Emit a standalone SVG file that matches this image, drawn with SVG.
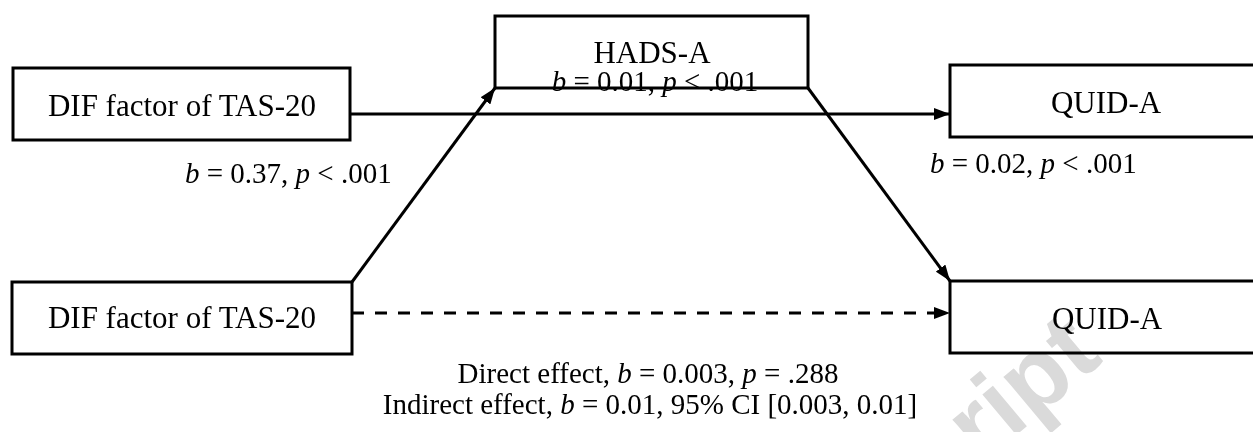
<svg xmlns="http://www.w3.org/2000/svg" width="1253" height="432" viewBox="0 0 1253 432">
<style>
.box{fill:#fff;stroke:#000;stroke-width:3}
.nt{font-family:"Liberation Serif","Times New Roman",serif;font-size:31px;fill:#000;text-anchor:middle}
.lb{font-family:"Liberation Serif","Times New Roman",serif;font-size:29px;fill:#000}
.ln{fill:none;stroke:#000;stroke-width:3}
.wm{font-family:"Liberation Sans",Arial,sans-serif;font-weight:bold;font-size:100px;fill:#dadada;mix-blend-mode:multiply}
</style>
<defs>
<marker id="ah" viewBox="0 0 16 12" refX="16" refY="6" markerWidth="16" markerHeight="12" markerUnits="userSpaceOnUse" orient="auto">
<path d="M0,0 L16,6 L0,12 Z" fill="#000"/>
</marker>
</defs>
<g id="connectors">
<line class="ln" x1="350" y1="114" x2="950" y2="114" marker-end="url(#ah)"/>
<line class="ln" x1="352" y1="282" x2="495" y2="88" marker-end="url(#ah)"/>
<line class="ln" x1="808" y1="88" x2="950" y2="281" marker-end="url(#ah)"/>
<line class="ln" x1="352" y1="313" x2="950" y2="313" stroke-dasharray="12 11" marker-end="url(#ah)"/>
</g>
<g id="node-hads">
<rect class="box" x="495" y="16" width="313" height="72"/>
<text class="nt" x="652" y="63">HADS-A</text>
</g>
<g id="node-dif-top">
<rect class="box" x="13" y="68" width="337" height="72"/>
<text class="nt" x="182" y="116" font-size="32">DIF factor of TAS-20</text>
</g>
<g id="node-quid-top">
<rect class="box" x="950" y="65" width="320" height="72"/>
<text class="nt" x="1106" y="113">QUID-A</text>
</g>
<g id="node-dif-bottom">
<rect class="box" x="12" y="282" width="340" height="72"/>
<text class="nt" x="182" y="328" font-size="32">DIF factor of TAS-20</text>
</g>
<g id="node-quid-bottom">
<rect class="box" x="950" y="281" width="320" height="72"/>
<text class="nt" x="1107" y="329">QUID-A</text>
</g>
<g id="labels">
<text class="lb" x="655" y="91" text-anchor="middle"><tspan font-style="italic">b</tspan> = 0.01, <tspan font-style="italic">p</tspan> &lt; .001</text>
<text class="lb" x="185" y="183"><tspan font-style="italic">b</tspan> = 0.37, <tspan font-style="italic">p</tspan> &lt; .001</text>
<text class="lb" x="930" y="173"><tspan font-style="italic">b</tspan> = 0.02, <tspan font-style="italic">p</tspan> &lt; .001</text>
<text class="lb" x="648" y="383" text-anchor="middle">Direct effect, <tspan font-style="italic">b</tspan> = 0.003, <tspan font-style="italic">p</tspan> = .288</text>
<text class="lb" x="650" y="414" text-anchor="middle">Indirect effect, <tspan font-style="italic">b</tspan> = 0.01, 95% CI [0.003, 0.01]</text>
</g>
<text class="wm" transform="translate(896,536) rotate(-40)">script</text>
</svg>
